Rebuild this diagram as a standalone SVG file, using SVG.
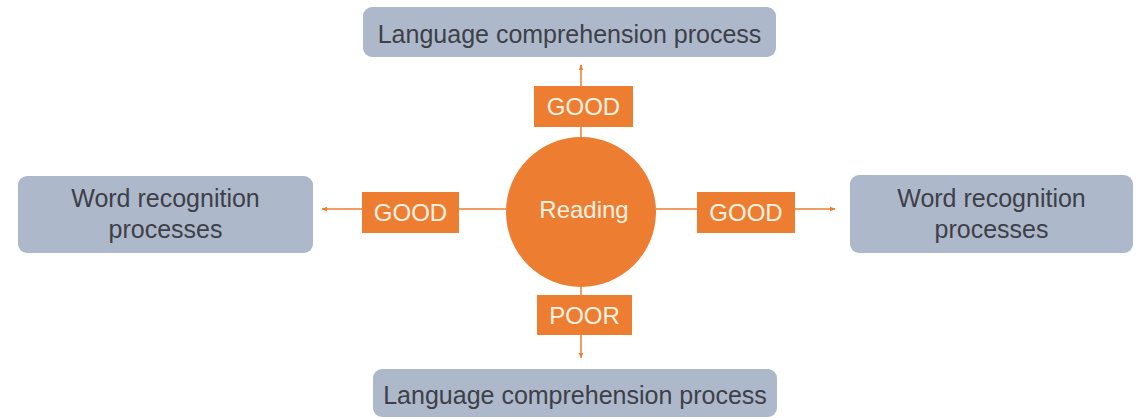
<svg xmlns="http://www.w3.org/2000/svg" width="1140" height="418" viewBox="0 0 1140 418">
<style>
.box{fill:#ADB9CA;}
.lbl{fill:#ED7D31;}
.t{font-family:"Liberation Sans",Arial,sans-serif;font-size:25px;fill:#3D4048;text-anchor:middle;}
.w{font-family:"Liberation Sans",Arial,sans-serif;font-size:24px;fill:#FFF3E3;text-anchor:middle;}
.c{stroke:#ED7D31;stroke-width:1.5;fill:none;}
</style>
<defs>
<marker id="ah" viewBox="0 0 10 10" refX="9" refY="5" markerWidth="6" markerHeight="6" orient="auto" markerUnits="userSpaceOnUse">
<path d="M0,1 L10,5 L0,9 z" fill="#ED7D31"/>
</marker>
</defs>
<rect width="1140" height="418" fill="#FFFFFF"/>
<g id="connectors">
<line class="c" x1="581" y1="137" x2="581" y2="65" marker-end="url(#ah)"/>
<line class="c" x1="506" y1="209" x2="322" y2="209" marker-end="url(#ah)"/>
<line class="c" x1="656" y1="209" x2="835" y2="209" marker-end="url(#ah)"/>
<line class="c" x1="581" y1="287" x2="581" y2="358" marker-end="url(#ah)"/>
</g>
<g id="top-node">
<rect class="box" x="363" y="7" width="413" height="50" rx="9"/>
<text class="t" x="569.5" y="43">Language comprehension process</text>
</g>
<g id="bottom-node">
<rect class="box" x="373" y="369" width="404" height="48" rx="9"/>
<text class="t" x="575" y="404">Language comprehension process</text>
</g>
<g id="left-node">
<rect class="box" x="18" y="176" width="295" height="77" rx="9"/>
<text class="t" x="165.5" y="207">Word recognition</text>
<text class="t" x="165.5" y="238">processes</text>
</g>
<g id="right-node">
<rect class="box" x="850" y="175" width="283" height="78" rx="9"/>
<text class="t" x="991.5" y="207">Word recognition</text>
<text class="t" x="991.5" y="238">processes</text>
</g>
<g id="reading">
<circle cx="581" cy="212" r="75" fill="#ED7D31"/>
<text class="w" x="584" y="218">Reading</text>
</g>
<g id="label-top">
<rect class="lbl" x="534" y="86" width="99" height="41"/>
<text class="w" x="583.5" y="115">GOOD</text>
</g>
<g id="label-left">
<rect class="lbl" x="362" y="192" width="97" height="41"/>
<text class="w" x="410.5" y="221">GOOD</text>
</g>
<g id="label-right">
<rect class="lbl" x="697" y="192" width="98" height="41"/>
<text class="w" x="746" y="221">GOOD</text>
</g>
<g id="label-bottom">
<rect class="lbl" x="537" y="295" width="95" height="40"/>
<text class="w" x="584.5" y="324">POOR</text>
</g>
</svg>
